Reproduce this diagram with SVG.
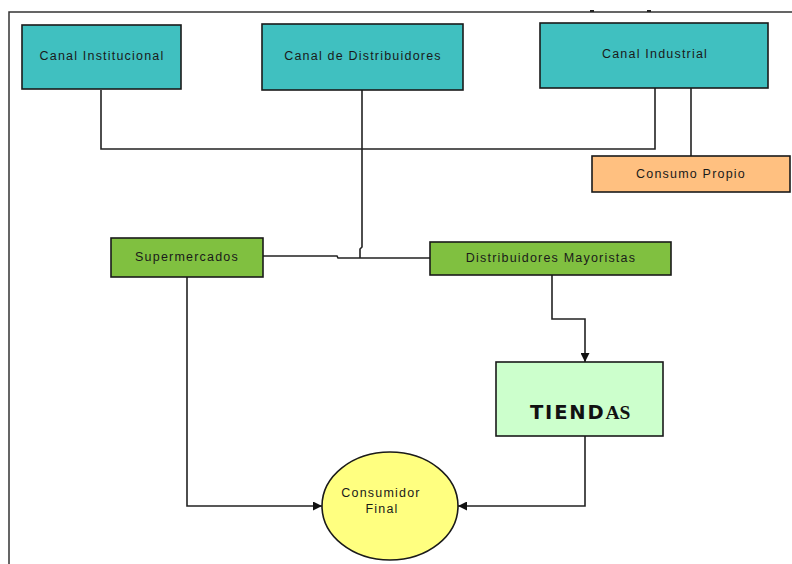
<svg xmlns="http://www.w3.org/2000/svg" width="792" height="564" viewBox="0 0 792 564">
<style>
.box{stroke:#1a1a1a;stroke-width:1.6}
.teal{fill:#40C0C0}
.peach{fill:#FFC080}
.green{fill:#80C040}
.mint{fill:#CCFFCC}
.yel{fill:#FFFF80}
.lbl{font-family:"Liberation Sans",Arial,sans-serif;font-size:12.5px;letter-spacing:1.2px;fill:#1a1a1a;text-anchor:middle}
.conn{fill:none;stroke:#222;stroke-width:1.6}
.frame{fill:none;stroke:#333;stroke-width:1.5}
</style>
<defs>
<marker id="arr" viewBox="0 0 10 10" refX="10" refY="5" markerWidth="10" markerHeight="9" markerUnits="userSpaceOnUse" orient="auto">
<path d="M0,0 L10,5 L0,10 Z" fill="#111"/>
</marker>
</defs>
<rect width="792" height="564" fill="#ffffff"/>
<g id="frame">
<path class="frame" d="M9,564 V12 H792"/>
<rect x="590" y="10" width="4" height="2" fill="#222"/>
<rect x="647" y="10" width="4" height="2" fill="#222"/>
</g>
<g id="connectors">
<path class="conn" d="M101,90 V149 H655 V88"/>
<path class="conn" d="M691,88 V156"/>
<path class="conn" d="M362,90 V247 L360,249 V258"/>
<path class="conn" d="M263,256 H337 L338,258 H430"/>
<path class="conn" d="M552,275 V319 H585 V362" marker-end="url(#arr)"/>
<path class="conn" d="M585,436 V506 H458" marker-end="url(#arr)"/>
<path class="conn" d="M187,277 V506 H322" marker-end="url(#arr)"/>
</g>
<g id="canal-institucional">
<rect class="box teal" x="22" y="25" width="159" height="64"/>
<text class="lbl" x="102" y="60">Canal Institucional</text>
</g>
<g id="canal-distribuidores">
<rect class="box teal" x="262" y="24" width="201" height="66"/>
<text class="lbl" x="363" y="60">Canal de Distribuidores</text>
</g>
<g id="canal-industrial">
<rect class="box teal" x="540" y="23" width="228" height="65"/>
<text class="lbl" x="655" y="58">Canal Industrial</text>
</g>
<g id="consumo-propio">
<rect class="box peach" x="592" y="156" width="198" height="36"/>
<text class="lbl" x="691" y="178">Consumo Propio</text>
</g>
<g id="supermercados">
<rect class="box green" x="111" y="238" width="152" height="39"/>
<text class="lbl" x="187" y="261">Supermercados</text>
</g>
<g id="distribuidores-mayoristas">
<rect class="box green" x="430" y="242" width="241" height="33"/>
<text class="lbl" x="551" y="262">Distribuidores Mayoristas</text>
</g>
<g id="tiendas">
<rect class="box mint" x="496" y="362" width="167" height="74"/>
<text x="530" y="419" fill="#111"><tspan font-family="'DejaVu Sans',Verdana,sans-serif" font-weight="bold" font-size="19.5px" letter-spacing="1.8px">TIEND</tspan><tspan font-family="'Liberation Serif','Times New Roman',serif" font-weight="bold" font-size="19.5px">AS</tspan></text>
</g>
<g id="consumidor-final">
<ellipse class="box yel" cx="390" cy="506" rx="68" ry="54"/>
<text class="lbl" x="381" y="497">Consumidor</text>
<text class="lbl" x="382" y="513">Final</text>
</g>
</svg>
